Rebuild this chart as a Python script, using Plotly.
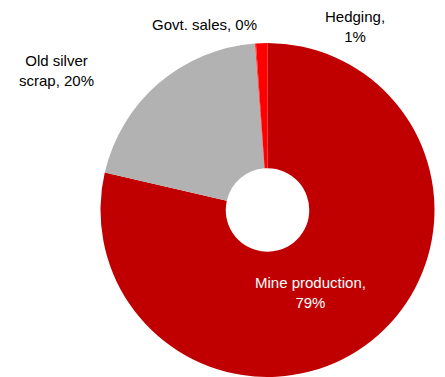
import plotly.graph_objects as go

W, H = 445, 377

categories = ["Mine production", "Old silver scrap", "Govt. sales", "Hedging"]
values = [78.6, 20.2, 0.1, 1.1]
label_texts = ["Mine production,<br>79%", "Old silver<br>scrap, 20%", "Govt. sales, 0%", "Hedging,<br>1%"]
colors = ["#C00000", "#B2B2B2", "#FF3333", "#FF0000"]
label_px = [(310, 292), (56, 71), (204, 24), (355, 27)]
label_colors = ["white", "black", "black", "black"]

cx, cy, r = 267.5, 210, 167

fig = go.Figure(go.Pie(
    labels=categories,
    values=values,
    marker=dict(colors=colors, line=dict(width=0)),
    hole=0.25,
    sort=False,
    direction="clockwise",
    rotation=0,
    textinfo="none",
    hoverinfo="label+percent",
    showlegend=False,
    domain=dict(x=[(cx - r) / W, (cx + r) / W], y=[(H - cy - r) / H, (H - cy + r) / H]),
))

for txt, (px, py), col in zip(label_texts, label_px, label_colors):
    fig.add_annotation(
        text=txt, x=px / W, y=1 - py / H, xref="paper", yref="paper",
        xanchor="center", yanchor="middle", showarrow=False,
        font=dict(family="Liberation Sans, Arial", size=15, color=col),
    )

fig.update_layout(
    width=W, height=H,
    margin=dict(l=0, r=0, t=0, b=0),
    paper_bgcolor="white", plot_bgcolor="white",
)

fig.write_html("out.html")
